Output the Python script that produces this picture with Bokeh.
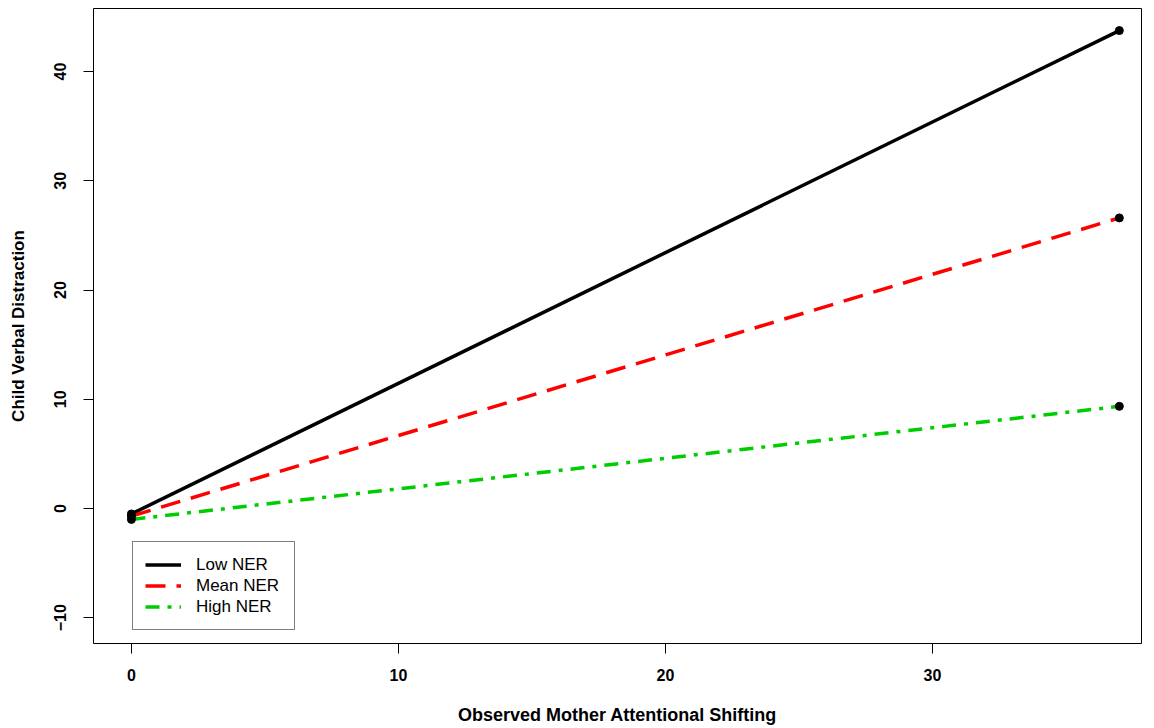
from bokeh.plotting import figure
from bokeh.models import Range1d, Legend, LegendItem, FixedTicker
from bokeh.embed import file_html
from bokeh.resources import INLINE

# ---- data ----
x_vals = [0, 37]
low_ner = [-0.5, 43.75]
mean_ner = [-0.7, 26.6]
high_ner = [-1.0, 9.35]
series_names = ["Low NER", "Mean NER", "High NER"]
x_ticks = [0, 10, 20, 30]
y_ticks = [-10, 0, 10, 20, 30, 40]
x_title = "Observed Mother Attentional Shifting"
y_title = "Child Verbal Distraction"

FONT = "Liberation Sans"

p = figure(width=1150, height=728, output_backend="svg", toolbar_location=None,
           x_range=Range1d(-1.42, 37.83), y_range=Range1d(-12.36, 45.77),
           min_border_left=93, min_border_right=9, min_border_top=8,
           min_border_bottom=85)

p.xgrid.visible = False
p.ygrid.visible = False
p.outline_line_color = "black"
p.outline_line_width = 1
p.background_fill_color = "white"
p.border_fill_color = "white"

for ax, ticks in ((p.xaxis[0], x_ticks), (p.yaxis[0], y_ticks)):
    ax.ticker = FixedTicker(ticks=ticks)
    ax.axis_line_color = None
    ax.major_tick_line_color = "black"
    ax.major_tick_line_width = 1
    ax.major_tick_out = 10
    ax.major_tick_in = 0
    ax.minor_tick_line_color = None
    ax.major_label_text_font = FONT
    ax.major_label_text_font_style = "bold"
    ax.major_label_text_font_size = "16px"
    ax.major_label_text_color = "black"
    ax.axis_label_text_font = FONT
    ax.axis_label_text_font_style = "bold"
    ax.axis_label_text_color = "black"

p.xaxis.axis_label = x_title
p.yaxis.axis_label = y_title
p.xaxis.axis_label_text_font_size = "18px"
p.yaxis.axis_label_text_font_size = "17px"
p.xaxis.major_label_standoff = 15
p.xaxis.axis_label_standoff = 21
p.yaxis.major_label_standoff = 17
p.yaxis.major_label_orientation = "vertical"
p.yaxis.axis_label_standoff = 24

LW = 3.5
r1 = p.line(x_vals, low_ner, line_color="black", line_width=LW)
r2 = p.line(x_vals, mean_ner, line_color="red", line_width=LW, line_dash="20 11")
r3 = p.line(x_vals, high_ner, line_color="#00CD00", line_width=LW, line_dash="14 8 4 8")

for ys in (low_ner, mean_ner, high_ner):
    p.scatter(x_vals, ys, size=8, color="black")

legend = Legend(items=[LegendItem(label=series_names[0], renderers=[r1]),
                       LegendItem(label=series_names[1], renderers=[r2]),
                       LegendItem(label=series_names[2], renderers=[r3])],
                location=(39, 13), orientation="vertical")
legend.margin = 0
legend.padding = 12
legend.spacing = 0
legend.glyph_width = 36
legend.glyph_height = 21
legend.label_height = 21
legend.label_width = 86
legend.label_standoff = 15
legend.label_text_font = FONT
legend.label_text_font_size = "17px"
legend.label_text_color = "black"
legend.border_line_color = "black"
legend.border_line_width = 1
legend.background_fill_color = "white"
legend.background_fill_alpha = 1.0
p.add_layout(legend, "center")

open("out.html", "w").write(file_html(p, INLINE))
